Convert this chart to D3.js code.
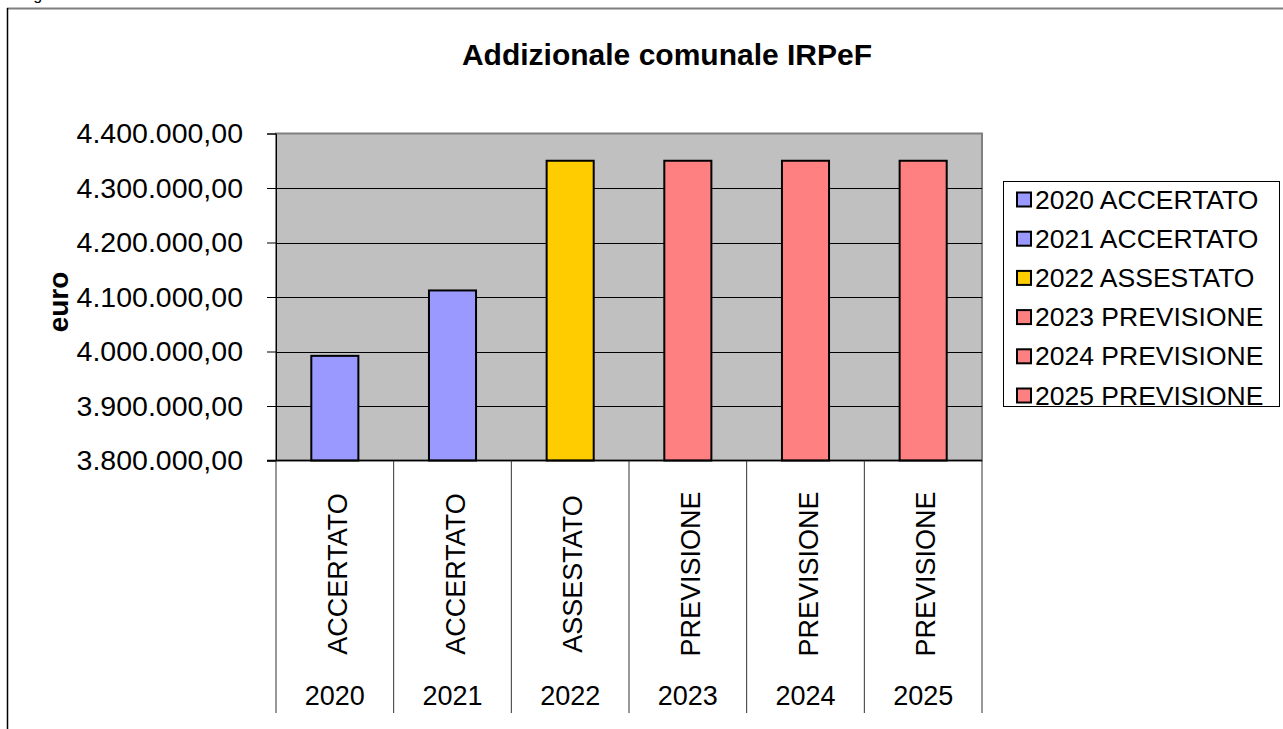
<!DOCTYPE html>
<html>
<head>
<meta charset="utf-8">
<script src="https://cdn.jsdelivr.net/npm/d3@7/dist/d3.min.js"></script>
<style>
  html, body { margin: 0; padding: 0; background: #fff; }
  svg { display: block; font-family: "Liberation Sans", Arial, sans-serif; }
</style>
</head>
<body>
<svg id="chart" width="1283" height="729"></svg>
<script>
const years = ["2020", "2021", "2022", "2023", "2024", "2025"];
const phases = ["ACCERTATO", "ACCERTATO", "ASSESTATO", "PREVISIONE", "PREVISIONE", "PREVISIONE"];
const values = [3992000, 4112000, 4350000, 4350000, 4350000, 4350000];
const colors = ["#9999FF", "#9999FF", "#FFCC00", "#FF8080", "#FF8080", "#FF8080"];
const yTicks = [3800000, 3900000, 4000000, 4100000, 4200000, 4300000, 4400000];
const title = "Addizionale comunale IRPeF";
const yTitle = "euro";

const svg = d3.select("#chart");
const plot = { left: 276, right: 982, top: 133.5, bottom: 460.5 };

// outer frame (partially visible)
svg.append("text").attr("x", 20).attr("y", -0.5).attr("font-size", 16).attr("fill", "#000").text("Figura 1");
svg.append("line").attr("x1", 7).attr("x2", 1283).attr("y1", 8.5).attr("y2", 8.5).attr("stroke", "#7f7f7f").attr("stroke-width", 2);
svg.append("line").attr("x1", 7.5).attr("x2", 7.5).attr("y1", 8).attr("y2", 729).attr("stroke", "#000").attr("stroke-width", 1.5);

const x = d3.scaleBand().domain(years).range([plot.left, plot.right]).padding(0);
const y = d3.scaleLinear().domain([3800000, 4400000]).range([plot.bottom, plot.top]);

// plot area
svg.append("rect").attr("x", plot.left).attr("y", plot.top)
  .attr("width", plot.right - plot.left).attr("height", plot.bottom - plot.top)
  .attr("fill", "#C0C0C0").attr("stroke", "#808080").attr("stroke-width", 2);

// gridlines
svg.append("g").selectAll("line").data(yTicks.filter(t => t > 3800000 && t < 4400000)).join("line")
  .attr("x1", plot.left).attr("x2", plot.right)
  .attr("y1", d => Math.round(y(d)) + 0.5).attr("y2", d => Math.round(y(d)) + 0.5)
  .attr("stroke", "#000").attr("stroke-width", 1);

// y axis
const fmt = d3.formatLocale({ decimal: ",", thousands: ".", grouping: [3], currency: ["", "€"] }).format(",.2f");
const yAxis = svg.append("g").attr("transform", `translate(${plot.left},0)`)
  .call(d3.axisLeft(y).tickValues(yTicks).tickSize(9).tickPadding(24).tickFormat(fmt));
yAxis.select(".domain").attr("stroke", "#000").attr("stroke-width", 1);
yAxis.selectAll(".tick line").attr("stroke", "#000");
yAxis.selectAll(".tick text").attr("font-size", 28.5).attr("fill", "#000")
  .attr("font-family", '"Liberation Sans", Arial, sans-serif');

// bars
const barW = x.bandwidth() * 0.4;
svg.append("g").selectAll("rect").data(values).join("rect")
  .attr("x", (d, i) => x(years[i]) + (x.bandwidth() - barW) / 2)
  .attr("y", d => y(d))
  .attr("width", barW)
  .attr("height", d => y(3800000) - y(d))
  .attr("fill", (d, i) => colors[i])
  .attr("stroke", "#000").attr("stroke-width", 2);

// bottom axis line
svg.append("line").attr("x1", plot.left - 9).attr("x2", plot.right)
  .attr("y1", plot.bottom).attr("y2", plot.bottom).attr("stroke", "#000").attr("stroke-width", 1.5);

// category dividers
const bounds = years.map(d => x(d)).concat([plot.right]);
svg.append("g").selectAll("line").data(bounds).join("line")
  .attr("x1", d => d).attr("x2", d => d)
  .attr("y1", plot.bottom).attr("y2", 713)
  .attr("stroke", "#333").attr("stroke-width", 1);

// category labels (rotated)
svg.append("g").selectAll("text").data(phases).join("text")
  .attr("transform", (d, i) => `translate(${x(years[i]) + x.bandwidth() / 2 + 3},574) rotate(-90)`)
  .attr("text-anchor", "middle").attr("dominant-baseline", "central")
  .attr("font-size", 27).attr("fill", "#000").text(d => d);

// year labels
svg.append("g").selectAll("text").data(years).join("text")
  .attr("x", d => x(d) + x.bandwidth() / 2).attr("y", 705)
  .attr("text-anchor", "middle").attr("font-size", 27).attr("fill", "#000").text(d => d);

// title
svg.append("text").attr("x", 667).attr("y", 65).attr("text-anchor", "middle")
  .attr("font-size", 30).attr("font-weight", "bold").attr("fill", "#000").text(title);

// y title
svg.append("text").attr("transform", "translate(68,302) rotate(-90)")
  .attr("text-anchor", "middle").attr("font-size", 28).attr("font-weight", "bold")
  .attr("fill", "#000").text(yTitle);

// legend
const lg = svg.append("g");
lg.append("rect").attr("x", 1003.5).attr("y", 181.5).attr("width", 276).attr("height", 225)
  .attr("fill", "#fff").attr("stroke", "#000").attr("stroke-width", 1);
const rows = lg.selectAll("g.row").data(years).join("g").attr("class", "row")
  .attr("transform", (d, i) => `translate(0,${199.5 + i * 39.2})`);
rows.append("rect").attr("x", 1017).attr("y", -7).attr("width", 14).attr("height", 14)
  .attr("fill", (d, i) => colors[i]).attr("stroke", "#000").attr("stroke-width", 2);
rows.append("text").attr("x", 1035).attr("y", 0).attr("dominant-baseline", "central")
  .attr("font-size", 26.5).attr("fill", "#000").text((d, i) => d + " " + phases[i]);
</script>
</body>
</html>
